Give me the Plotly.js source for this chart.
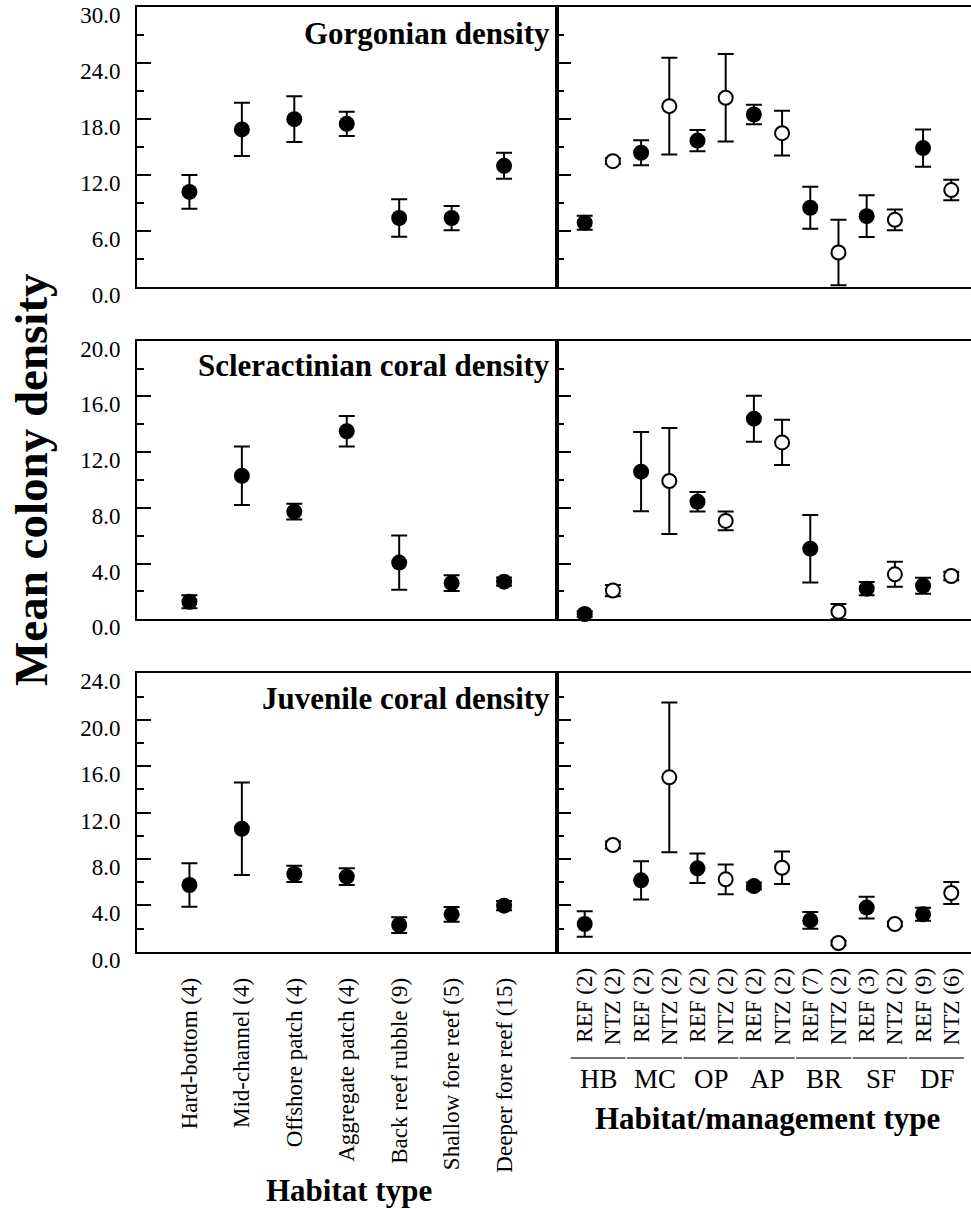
<!DOCTYPE html>
<html>
<head>
<meta charset="utf-8">
<script src="https://cdn.plot.ly/plotly-3.0.1.min.js"></script>
<style>html,body{margin:0;padding:0;background:#fff;}#chart{width:971px;height:1209px;}</style>
</head>
<body>
<div id="chart"></div>
<script>
// ---------- DATA ----------
const habitatLabels = ['Hard-bottom (4)', 'Mid-channel (4)', 'Offshore patch (4)', 'Aggregate patch (4)',
  'Back reef rubble (9)', 'Shallow fore reef (5)', 'Deeper fore reef (15)'];
const mgmtLabels = ['REF (2)', 'NTZ (2)', 'REF (2)', 'NTZ (2)', 'REF (2)', 'NTZ (2)', 'REF (2)', 'NTZ (2)',
  'REF (7)', 'NTZ (2)', 'REF (3)', 'NTZ (2)', 'REF (9)', 'NTZ (6)'];
const groupLabels = ['HB', 'MC', 'OP', 'AP', 'BR', 'SF', 'DF'];
const panelTitles = ['Gorgonian density', 'Scleractinian coral density', 'Juvenile coral density'];

// Gorgonian density
const gorgHab = [10.2, 16.9, 18.0, 17.5, 7.4, 7.4, 13.0];
const gorgHabErr = [1.8, 2.85, 2.45, 1.3, 2.0, 1.3, 1.4];
const gorgRef = [6.9, 14.4, 15.7, 18.5, 8.5, 7.6, 14.9];
const gorgRefErr = [0.75, 1.35, 1.15, 1.05, 2.25, 2.25, 2.0];
const gorgNtz = [13.5, 19.4, 20.3, 16.5, 3.7, 7.2, 10.4];
const gorgNtzErr = [0.3, 5.2, 4.7, 2.4, 3.5, 1.1, 1.1];

// Scleractinian coral density
const sclHab = [1.26, 10.3, 7.73, 13.5, 4.07, 2.6, 2.7];
const sclHabErr = [0.47, 2.1, 0.56, 1.1, 1.95, 0.56, 0.3];
const sclRef = [0.38, 10.6, 8.44, 14.4, 5.07, 2.2, 2.41];
const sclRefErr = [0.2, 2.85, 0.7, 1.65, 2.42, 0.48, 0.58];
const sclNtz = [2.06, 9.93, 7.06, 12.7, 0.55, 3.23, 3.11];
const sclNtzErr = [0.4, 3.8, 0.67, 1.63, 0.55, 0.9, 0.3];

// Juvenile coral density
const juvHab = [5.75, 10.6, 6.7, 6.47, 2.3, 3.22, 3.97];
const juvHabErr = [1.88, 3.98, 0.7, 0.72, 0.68, 0.63, 0.4];
const juvRef = [2.39, 6.15, 7.19, 5.66, 2.7, 3.8, 3.22];
const juvRefErr = [1.1, 1.65, 1.27, 0.3, 0.73, 0.93, 0.56];
const juvNtz = [9.2, 15.03, 6.24, 7.24, 0.75, 2.39, 5.06];
const juvNtzErr = [0.3, 6.45, 1.28, 1.4, 0.2, 0.2, 0.95];

// ---------- BUILD ----------
const FONT = '"Liberation Serif", "Times New Roman", serif';
const W = 971, H = 1209;
const px = v => v / W;
const py = v => 1 - v / H;

const habX = habitatLabels.map((_, i) => i + 1);
const refX = groupLabels.map((_, i) => 2 * i + 1);
const ntzX = groupLabels.map((_, i) => 2 * i + 2);
const mgmtX = mgmtLabels.map((_, i) => i + 1);

const filled = {symbol: 'circle', size: 16, color: 'black', line: {width: 0}};
const open = {symbol: 'circle', size: 14, color: 'white', line: {color: 'black', width: 2}};
const err = a => ({type: 'data', array: a, visible: true, color: 'black', thickness: 2, width: 8});

const panels = [
  [gorgHab, gorgHabErr, gorgRef, gorgRefErr, gorgNtz, gorgNtzErr],
  [sclHab, sclHabErr, sclRef, sclRefErr, sclNtz, sclNtzErr],
  [juvHab, juvHabErr, juvRef, juvRefErr, juvNtz, juvNtzErr]
];

const traces = [];
panels.forEach((p, r) => {
  const xl = 'x' + (r === 0 ? '' : (2 * r + 1));
  const yl = 'y' + (r === 0 ? '' : (2 * r + 1));
  const xr = 'x' + (2 * r + 2);
  const yr = 'y' + (2 * r + 2);
  traces.push({type: 'scatter', mode: 'markers', x: habX, y: p[0], error_y: err(p[1]),
    marker: filled, xaxis: xl, yaxis: yl, cliponaxis: false, hoverinfo: 'none'});
  traces.push({type: 'scatter', mode: 'markers', x: refX, y: p[2], error_y: err(p[3]),
    marker: filled, xaxis: xr, yaxis: yr, cliponaxis: false, hoverinfo: 'none'});
  traces.push({type: 'scatter', mode: 'markers', x: ntzX, y: p[4], error_y: err(p[5]),
    marker: open, xaxis: xr, yaxis: yr, cliponaxis: false, hoverinfo: 'none'});
});

const rowDomains = [[py(287), py(7.3)], [py(619.3), py(340.7)], [py(951.7), py(673.3)]];
const yRanges = [[0, 30], [0, 20], [0, 24]];
const yDticks = [6, 4, 4];
const leftDom = [px(137), px(556.5)];
const rightDom = [px(556.5), 1];

const layout = {
  width: W, height: H,
  margin: {l: 0, r: 0, t: 0, b: 0},
  paper_bgcolor: 'white', plot_bgcolor: 'white',
  showlegend: false,
  font: {family: FONT, color: 'black', size: 23},
  annotations: [], shapes: []
};

for (let r = 0; r < 3; r++) {
  const li = 2 * r + 1, ri = 2 * r + 2;
  const lk = li === 1 ? '' : li;
  const bottom = r === 2;
  const commonY = {
    domain: rowDomains[r], range: yRanges[r], dtick: yDticks[r], tick0: 0,
    ticks: 'inside', ticklen: 14, tickwidth: 2, tickcolor: 'black',
    minor: {ticks: 'inside', ticklen: 7, tickwidth: 2, tickcolor: 'black', dtick: yDticks[r] / 2},
    showline: true, linewidth: 2, linecolor: 'black',
    showgrid: false, zeroline: false, fixedrange: true
  };
  layout['yaxis' + lk] = Object.assign({}, commonY, {
    anchor: 'x' + lk, mirror: true, tickformat: '.1f',
    ticklabelshift: 8, ticklabelstandoff: 10, ticklabeloverflow: 'allow',
    tickfont: {family: FONT, size: 23, color: 'black'}
  });
  layout['yaxis' + ri] = Object.assign({}, commonY, {
    anchor: 'x' + ri, showticklabels: false
  });
  layout['xaxis' + lk] = {
    domain: leftDom, range: [0, 8], anchor: 'y' + lk,
    showline: true, mirror: true, linewidth: 2, linecolor: 'black',
    ticks: '', showgrid: false, zeroline: false, fixedrange: true,
    tickmode: 'array', tickvals: habX, ticktext: habitatLabels,
    showticklabels: bottom, tickangle: -90, ticklabelstandoff: 15,
    tickfont: {family: FONT, size: 23, color: 'black'}
  };
  layout['xaxis' + ri] = {
    domain: rightDom, range: [0, 14.7], anchor: 'y' + ri,
    showline: true, mirror: true, linewidth: 2, linecolor: 'black',
    ticks: '', showgrid: false, zeroline: false, fixedrange: true,
    tickmode: 'array', tickvals: mgmtX, ticktext: mgmtLabels,
    showticklabels: bottom, tickangle: -90, ticklabelstandoff: 5,
    tickfont: {family: FONT, size: 23, color: 'black'}
  };
}

// panel titles
const titleY = [33, 366, 698];
panelTitles.forEach((t, r) => {
  layout.annotations.push({
    text: '<b>' + t + '</b>', xref: 'paper', yref: 'paper',
    x: px(552), y: py(titleY[r]), xanchor: 'right', yanchor: 'middle',
    showarrow: false, font: {family: FONT, size: 31, color: 'black'}
  });
});

// group labels and underlines on the bottom-right axis
groupLabels.forEach((g, i) => {
  layout.annotations.push({
    text: g, xref: 'x6', yref: 'paper', x: 2 * i + 1.5, y: py(1079),
    xanchor: 'center', yanchor: 'middle', showarrow: false,
    font: {family: FONT, size: 27, color: 'black'}
  });
  layout.shapes.push({
    type: 'line', xref: 'x6', yref: 'paper',
    x0: 2 * i + 0.5, x1: 2 * i + 2.45, y0: py(1058), y1: py(1058),
    line: {color: '#444', width: 1.5}
  });
});

// axis titles
layout.annotations.push({
  text: '<b>Habitat/management type</b>', xref: 'paper', yref: 'paper',
  x: px(767), y: py(1118), xanchor: 'center', yanchor: 'middle', showarrow: false,
  font: {family: FONT, size: 31, color: 'black'}
});
layout.annotations.push({
  text: '<b>Habitat type</b>', xref: 'paper', yref: 'paper',
  x: px(349), y: py(1190), xanchor: 'center', yanchor: 'middle', showarrow: false,
  font: {family: FONT, size: 31, color: 'black'}
});
layout.annotations.push({
  text: '<b>Mean colony density</b>', xref: 'paper', yref: 'paper',
  x: px(31), y: py(480), xanchor: 'center', yanchor: 'middle', showarrow: false,
  textangle: -90, font: {family: FONT, size: 47, color: 'black'}
});

Plotly.newPlot('chart', traces, layout, {staticPlot: true, displayModeBar: false});
</script>
</body>
</html>
